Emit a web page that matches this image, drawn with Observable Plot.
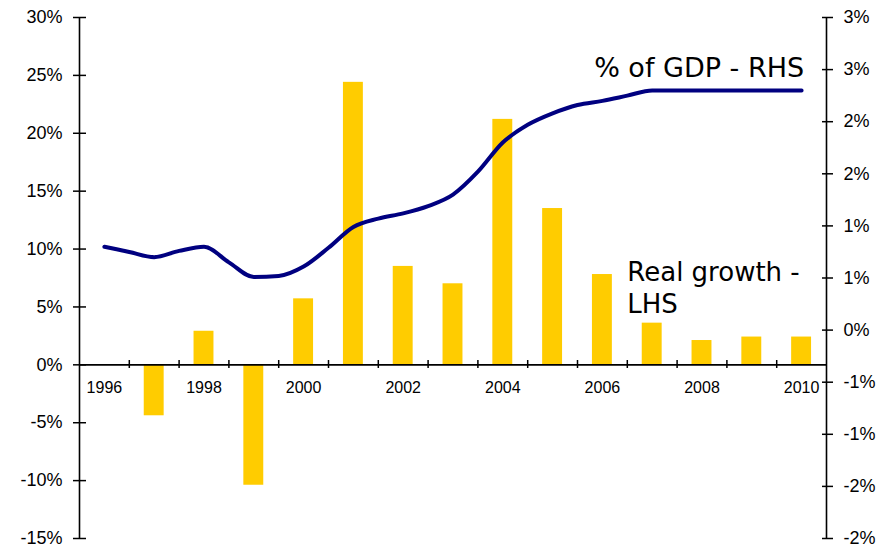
<!DOCTYPE html>
<html>
<head>
<meta charset="utf-8">
<script src="https://cdn.jsdelivr.net/npm/d3@7"></script>
<script src="https://cdn.jsdelivr.net/npm/@observablehq/plot@0.6"></script>
<style>
  html, body { margin: 0; padding: 0; background: #fff; }
  #wrap { position: relative; width: 893px; height: 547px; }
  #wrap svg { position: absolute; left: 0; top: 0; }
</style>
</head>
<body>
<div id="wrap"></div>
<script>
// ---- data ----
const years = [1996, 1997, 1998, 1999, 2000, 2001, 2002, 2003, 2004, 2005, 2006, 2007, 2008, 2009, 2010];
const realGrowth = [null, -4.4, 2.9, -10.4, 5.7, 24.4, 8.5, 7.0, 21.2, 13.5, 7.8, 3.6, 2.1, 2.4, 2.4]; // % (LHS)
const yearLabels = [1996, 1998, 2000, 2002, 2004, 2006, 2008, 2010];
const leftTicks = [-15, -10, -5, 0, 5, 10, 15, 20, 25, 30];
const rightTicks = [-2, -1.5, -1, -0.5, 0, 0.5, 1, 1.5, 2, 2.5, 3];

const lineT = [1996, 1996.5, 1997, 1997.5, 1998, 1998.5, 1999, 1999.5, 2000, 2000.5,
               2001, 2001.5, 2002, 2002.5, 2003, 2003.5, 2004, 2004.5, 2005, 2005.5,
               2006, 2006.5, 2007, 2007.5, 2008, 2008.5, 2009, 2009.5, 2010];
const gdpShare = [0.80, 0.75, 0.70, 0.76, 0.80, 0.65, 0.51, 0.52, 0.61, 0.79,
                  0.99, 1.07, 1.12, 1.19, 1.30, 1.52, 1.80, 1.97, 2.08, 2.16,
                  2.20, 2.25, 2.30, 2.30, 2.30, 2.30, 2.30, 2.30, 2.30]; // % of GDP (RHS)

const gdpLabel = "% of GDP - RHS";
const growthLabel = "Real growth -\nLHS";

// ---- tables ----
const bars = years.map((y, i) => ({year: y, value: realGrowth[i]})).filter(d => d.value != null);
const line = lineT.map((t, i) => ({t, v: gdpShare[i]}));

const W = 893, H = 547, mL = 79, mR = 67, mT = 17, mB = 9;
const plotW = W - mL - mR;
const pct = d => d + "%";
const pctR = d => {
  // Excel-style rounding (half away from zero)
  const r = Math.sign(d) * Math.round(Math.abs(d));
  return (Object.is(r, -0) ? 0 : r) + "%";
};
const tickFont = "Liberation Sans, Arial, sans-serif";
const annoFont = "DejaVu Sans, Verdana, sans-serif";

// ---- Plot A: bars + left axis ----
const plotA = Plot.plot({
  width: W, height: H,
  marginLeft: mL, marginRight: mR, marginTop: mT, marginBottom: mB,
  style: {background: "transparent", fontFamily: tickFont},
  x: {type: "band", domain: years, paddingInner: 0.6, paddingOuter: 0.3, round: false, axis: null},
  y: {domain: [-15, 30], axis: null, label: null},
  marks: [
    Plot.barY(bars, {x: "year", y: "value", fill: "#FFCC00"}),
    Plot.ruleY([0], {stroke: "#000", strokeWidth: 1.6}),
    Plot.text(yearLabels, {x: d => d, y: 0, dy: 23, text: d => String(d), fontSize: 16, fill: "#000"}),
    Plot.axisY({anchor: "left", label: null, ticks: leftTicks, tickFormat: pct, tickSize: 0, tickPadding: 17, fontSize: 18, fill: "#000"}),
    Plot.tickY(leftTicks, {y: d => d, stroke: "#000", strokeWidth: 1.5, dx: -6, insetRight: plotW - 13})
  ]
});

// ---- Plot B: line + right axis ----
const plotB = Plot.plot({
  width: W, height: H,
  marginLeft: mL, marginRight: mR, marginTop: mT, marginBottom: mB,
  style: {background: "transparent", fontFamily: tickFont},
  x: {type: "linear", domain: [years[0] - 0.5, years[years.length - 1] + 0.5], axis: null},
  y: {domain: [-2, 3], axis: null, label: null},
  marks: [
    Plot.ruleX([years[0] - 0.5, years[years.length - 1] + 0.5], {stroke: "#000", strokeWidth: 1.6}),
    Plot.ruleX(years.slice(0, -1), {x: d => d + 0.5, stroke: "#000", strokeWidth: 1.5, insetTop: 343, insetBottom: 170}),
    Plot.line(line, {x: "t", y: "v", stroke: "#000080", strokeWidth: 4, curve: "monotone-x", strokeLinecap: "round"}),
    Plot.axisY({anchor: "right", label: null, ticks: rightTicks, tickFormat: pctR, tickSize: 0, tickPadding: 17, fontSize: 18, fill: "#000"}),
    Plot.tickY(rightTicks, {y: d => d, stroke: "#000", strokeWidth: 1.5, dx: 7, insetLeft: plotW - 11}),
    Plot.text([gdpLabel], {x: 2010.05, y: 2.61, text: d => d, textAnchor: "end", lineAnchor: "top",
      fontSize: 27, fill: "#000", fontFamily: annoFont, style: "letter-spacing:0.5px"}),
    Plot.text([growthLabel], {x: 2006.5, y: 0.69, text: d => d, textAnchor: "start", lineAnchor: "top",
      fontSize: 26, lineHeight: 1.23, fill: "#000", fontFamily: annoFont})
  ]
});

const wrap = document.getElementById("wrap");
wrap.appendChild(plotA);
wrap.appendChild(plotB);
</script>
</body>
</html>
